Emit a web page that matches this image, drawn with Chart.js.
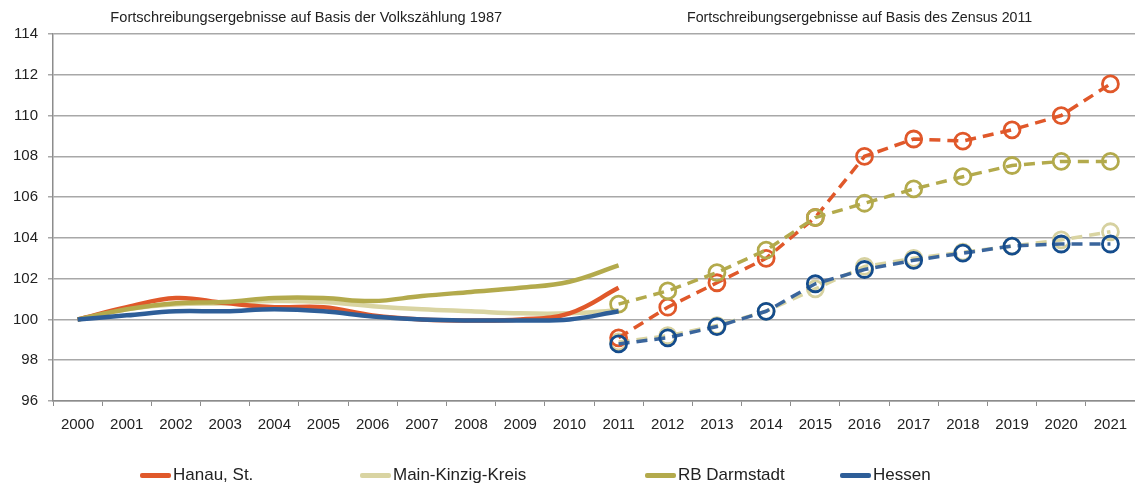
<!DOCTYPE html>
<html lang="de">
<head>
  <meta charset="UTF-8">
  <title>Bevölkerungsentwicklung 2000 = 100</title>
  <script src="https://cdn.jsdelivr.net/npm/chart.js"></script>
  <style>
    html, body { margin: 0; padding: 0; background: #fff; }
    #wrap { position: relative; width: 1135px; height: 492px; overflow: hidden; }
    .leg { position: absolute; top: 465px; font: 17px 'Liberation Sans Narrow', 'Liberation Sans', Arial, sans-serif; color: #222; display: flex; align-items: center; }
    .leg span.sw { display: inline-block; width: 31px; height: 5px; margin-right: 2px; border-radius: 2px; }
  </style>
</head>
<body>
  <div id="wrap">
    <canvas id="chart" width="1135" height="492"></canvas>
    <div class="leg" style="left:140px"><span class="sw" style="background:#e0582a"></span>Hanau, St.</div>
    <div class="leg" style="left:360px"><span class="sw" style="background:#d9d4a2"></span>Main-Kinzig-Kreis</div>
    <div class="leg" style="left:645px"><span class="sw" style="background:#b3aa4c"></span>RB Darmstadt</div>
    <div class="leg" style="left:840px"><span class="sw" style="background:#2e5e98"></span>Hessen</div>
  </div>

  <script>
    // Jahre
    const years = ['2000','2001','2002','2003','2004','2005','2006','2007','2008','2009','2010',
                   '2011','2012','2013','2014','2015','2016','2017','2018','2019','2020','2021'];
    const yTicks = [96, 98, 100, 102, 104, 106, 108, 110, 112, 114];

    // Basis Volkszählung 1987 (2000-2011)
    const hanauVz = [100, 100.6, 101.05, 100.8, 100.6, 100.6, 100.2, 100.0, 99.95, 100.0, 100.3, 101.55];
    const mkkVz   = [100, 100.5, 100.75, 100.8, 100.9, 100.85, 100.65, 100.5, 100.4, 100.3, 100.3, 100.45];
    const rbdVz   = [100, 100.5, 100.8, 100.85, 101.05, 101.05, 100.9, 101.15, 101.35, 101.55, 101.85, 102.65];
    const hesVz   = [100, 100.2, 100.4, 100.4, 100.5, 100.4, 100.15, 100.0, 99.95, 99.95, 100.0, 100.4];

    // Basis Zensus 2011 (2011-2021)
    const hanauZ = [99.1, 100.6, 101.8, 103.0, 105.0, 108.0, 108.85, 108.75, 109.3, 110.0, 111.55];
    const mkkZ   = [98.9, 99.2, 99.7, 100.4, 101.5, 102.6, 103.0, 103.3, 103.6, 103.9, 104.3];
    const rbdZ   = [100.75, 101.4, 102.3, 103.4, 105.0, 105.7, 106.4, 107.0, 107.55, 107.75, 107.75];
    const hesZ   = [98.8, 99.1, 99.65, 100.4, 101.75, 102.45, 102.9, 103.25, 103.6, 103.7, 103.7];

    const fillOld = arr => years.map((y, i) => i < arr.length ? arr[i] : null);
    const fillNew = arr => years.map((y, i) => i < 11 ? null : arr[i - 11]);

    function solid(data, color, order) {
      return { data: fillOld(data), borderColor: color, borderWidth: 4.5, tension: 0.4,
               pointRadius: 0, spanGaps: false, order: order };
    }
    function dashed(data, color, ptColor, order) {
      return { data: fillNew(data), borderColor: color, borderWidth: 3.5, borderDash: [11, 7],
               pointRadius: 8, pointBorderWidth: 2.8, pointBorderColor: ptColor,
               pointBackgroundColor: 'rgba(255,255,255,0)', order: order };
    }

    const fontTicks = { family: "'Liberation Sans Narrow', 'Liberation Sans', Arial, sans-serif", size: 15 };

    const headers = {
      id: 'headers',
      afterDraw(chart) {
        const c = chart.ctx, x = chart.scales.x;
        c.save();
        c.fillStyle = '#222';
        c.textAlign = 'center';
        c.textBaseline = 'middle';
        c.font = "14.6px 'Liberation Sans', Arial, sans-serif";
        c.fillText('Fortschreibungsergebnisse auf Basis der Volkszählung 1987', x.getPixelForValue(4.65), 18);
        c.font = "14.2px 'Liberation Sans', Arial, sans-serif";
        c.fillText('Fortschreibungsergebnisse auf Basis des Zensus 2011', x.getPixelForValue(15.9), 18);
        c.restore();
      }
    };

    new Chart(document.getElementById('chart'), {
      type: 'line',
      data: {
        labels: years,
        datasets: [
          solid(hesVz, '#2e5e98', 0),
          solid(hanauVz, '#e0582a', 2),
          solid(rbdVz, '#b3aa4c', 1),
          solid(mkkVz, '#d9d4a2', 3),
          dashed(hesZ, '#3a659c', '#144c8c', 0),
          dashed(mkkZ, '#d9d4a2', '#d6d1a0', 3),
          dashed(rbdZ, '#b3aa4c', '#b3aa4c', 1),
          dashed(hanauZ, '#e0582a', '#e0582a', 2)
        ]
      },
      options: {
        responsive: false,
        animation: false,
        layout: { autoPadding: false, padding: { top: 34, right: -3, left: 0, bottom: 0 } },
        plugins: { legend: { display: false }, tooltip: { enabled: false } },
        scales: {
          x: {
            offset: true,
            grid: { drawOnChartArea: false, drawTicks: true, tickLength: 5, color: '#8c8c8c', offset: true },
            border: { color: '#8c8c8c', width: 1.5 },
            ticks: { color: '#222', font: fontTicks, padding: 10, maxRotation: 0, autoSkip: false },
            afterFit: s => { s.height = 91; s.paddingLeft = 0; s.paddingRight = 0; }
          },
          y: {
            min: 96, max: 114,
            afterBuildTicks: s => { s.ticks = yTicks.map(v => ({ value: v })); },
            grid: { color: '#a8a8a8', lineWidth: 1.5, drawTicks: true, tickLength: 5 },
            border: { color: '#8c8c8c', width: 1.5 },
            ticks: { color: '#222', font: fontTicks, padding: 10 },
            afterFit: s => { s.width = 53; s.paddingTop = 0; s.paddingBottom = 0; }
          }
        }
      },
      plugins: [headers]
    });
  </script>
</body>
</html>
